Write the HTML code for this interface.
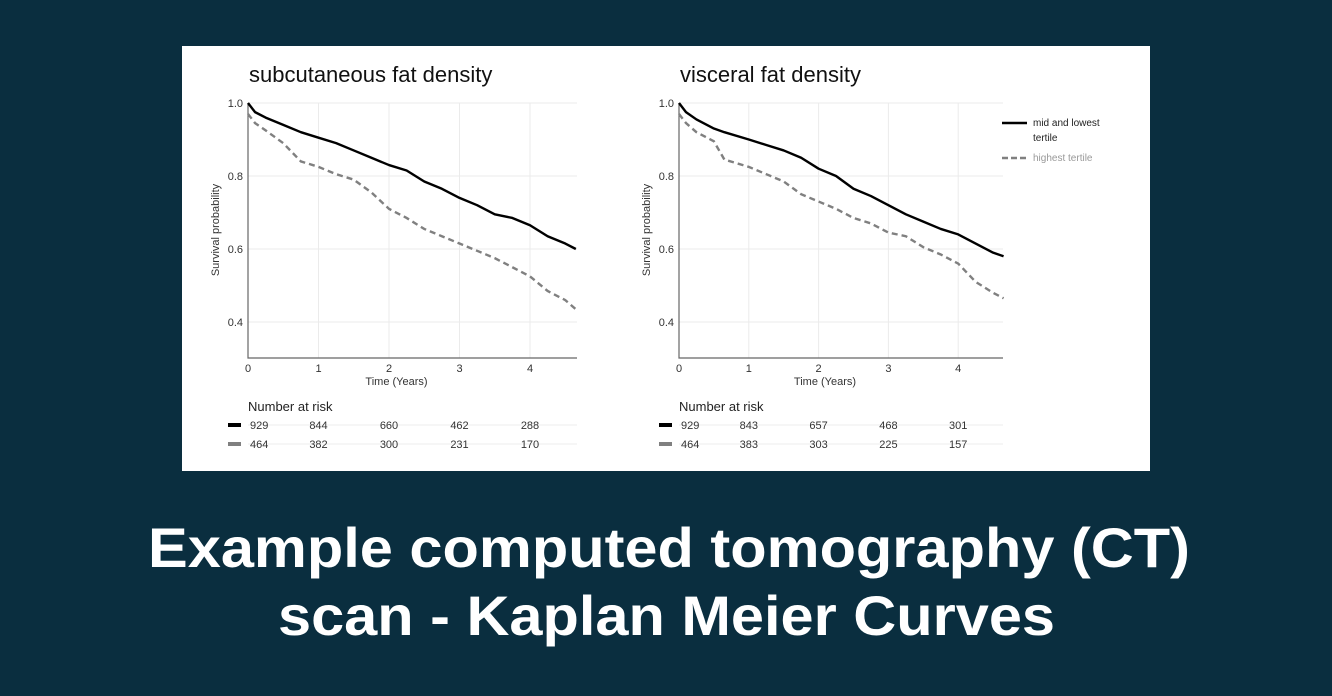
<!DOCTYPE html>
<html><head><meta charset="utf-8"><style>
html,body{margin:0;padding:0;background:#0a2e3f;}
svg{display:block;font-family:"Liberation Sans",sans-serif;}
</style></head><body>
<svg id="root" width="1332" height="696" viewBox="0 0 1332 696">
<rect x="0" y="0" width="1332" height="696" fill="#0a2e3f"/>
<rect x="182" y="46" width="968" height="425" fill="#ffffff"/>
<g id="charts"></g>
<text x="148" y="567" font-size="56" font-weight="bold" fill="#ffffff" textLength="1042" lengthAdjust="spacingAndGlyphs">Example computed tomography (CT)</text>
<text x="278" y="635" font-size="56" font-weight="bold" fill="#ffffff" textLength="777" lengthAdjust="spacingAndGlyphs">scan - Kaplan Meier Curves</text>
</svg>
<script>
const xTicks = [0,1,2,3,4];
const yTicks = [0.4,0.6,0.8,1.0];
const subTimes = [0,0.1,0.25,0.5,0.75,1,1.25,1.5,1.75,2,2.25,2.5,2.75,3,3.25,3.5,3.75,4,4.25,4.5,4.65];
const subSolid = [1.0,0.975,0.96,0.94,0.92,0.905,0.89,0.87,0.85,0.83,0.815,0.785,0.765,0.74,0.72,0.695,0.685,0.665,0.635,0.615,0.60];
const subDashed = [0.97,0.945,0.925,0.89,0.84,0.825,0.805,0.79,0.755,0.71,0.685,0.655,0.635,0.615,0.595,0.575,0.55,0.525,0.485,0.46,0.435];
const visTimes = [0,0.1,0.25,0.5,0.65,1,1.25,1.5,1.75,2,2.25,2.5,2.75,3,3.25,3.5,3.75,4,4.25,4.5,4.65];
const visSolid = [1.0,0.975,0.955,0.93,0.92,0.9,0.885,0.87,0.85,0.82,0.8,0.765,0.745,0.72,0.695,0.675,0.655,0.64,0.615,0.59,0.58];
const visDashed = [0.97,0.945,0.92,0.895,0.845,0.825,0.805,0.785,0.75,0.73,0.71,0.685,0.67,0.645,0.635,0.605,0.585,0.56,0.51,0.48,0.465];
const subRiskTop = ["929","844","660","462","288"];
const subRiskBottom = ["464","382","300","231","170"];
const visRiskTop = ["929","843","657","468","301"];
const visRiskBottom = ["464","383","303","225","157"];

const NS="http://www.w3.org/2000/svg";
const g=document.getElementById('charts');
function mk(tag,attrs,parent){const e=document.createElementNS(NS,tag);for(const k in attrs)e.setAttribute(k,attrs[k]);(parent||g).appendChild(e);return e;}

function drawChart(prefix,x0,pxPerYear,xEnd,title,times,solid,dashed,riskTop,riskBottom){
  const grp=mk('g',{});
  
  
  const yTop=103, yBot=358;
  const xs=t=>x0+t*pxPerYear;
  const ys=v=>103+(1.0-v)*365;
  const t=mk('text',{x:x0+1,y:82,'font-size':22,fill:'#111'},grp);t.textContent=title;
  
  
  xTicks.forEach(v=>{const l=mk('line',{x1:xs(v),x2:xs(v),y1:yTop,y2:yBot,stroke:'#ebebeb','stroke-width':1},grp);
    
    
    const tx=mk('text',{x:xs(v),y:372,'font-size':11,fill:'#333','text-anchor':'middle'},grp);tx.textContent=v;
    
    });
  yTicks.forEach(v=>{const l=mk('line',{x1:x0,x2:xEnd,y1:ys(v),y2:ys(v),stroke:'#ebebeb','stroke-width':1},grp);
    
    
    const ty=mk('text',{x:x0-5,y:ys(v)+4,'font-size':11,fill:'#333','text-anchor':'end'},grp);ty.textContent=v.toFixed(1);
    
    });
  const ax=mk('path',{d:`M${x0},${yTop} V${yBot} H${xEnd}`,fill:'none',stroke:'#666','stroke-width':1.2},grp);
  
  
  const xt=mk('text',{x:(x0+xEnd)/2-16,y:385,'font-size':11,fill:'#333','text-anchor':'middle'},grp);xt.textContent='Time (Years)';
  
  
  const yt=mk('text',{x:0,y:0,'font-size':11,fill:'#333','text-anchor':'middle',transform:`translate(${x0-29},230) rotate(-90)`},grp);yt.textContent='Survival probability';
  
  
  function linePath(vals){let d=`M${xs(times[0])},${ys(vals[0])}`;for(let i=1;i<times.length;i++){d+=` L${xs(times[i])},${ys(vals[i])}`;}return d;}
  const ps=mk('path',{d:linePath(solid),fill:'none',stroke:'#000','stroke-width':2.4,'stroke-linejoin':'round'},grp);
  
  
  const pd=mk('path',{d:linePath(dashed),fill:'none',stroke:'#808080','stroke-width':2.4,'stroke-dasharray':'6,4'},grp);
  
  
  const nr=mk('text',{x:x0,y:411,'font-size':13,fill:'#222'},grp);nr.textContent='Number at risk';
  
  
  [[riskTop,429,'#000'],[riskBottom,448,'#808080']].forEach(([row,y,c],ri)=>{
    const gl=mk('line',{x1:x0,x2:xEnd,y1:y-4,y2:y-4,stroke:'#eeeeee','stroke-width':1},grp);
    
    
    const sw=mk('rect',{x:x0-20,y:y-6,width:13,height:4,fill:c},grp);
    
    
    row.forEach((v,i)=>{const tt=mk('text',{x:xs(xTicks[i])+(i===0?2:0),y:y,'font-size':11,fill:'#333','text-anchor':i===0?'start':'middle'},grp);tt.textContent=v;
      
      });
  });
}
drawChart('subcutaneous',248,70.5,577,'subcutaneous fat density',subTimes,subSolid,subDashed,subRiskTop,subRiskBottom);
drawChart('visceral',679,69.8,1003,'visceral fat density',visTimes,visSolid,visDashed,visRiskTop,visRiskBottom);
const lg=mk('g',{});


const l1=mk('line',{x1:1002,x2:1027,y1:123,y2:123,stroke:'#000','stroke-width':2.5},lg);


const t1=mk('text',{x:1033,y:126,'font-size':10,fill:'#222'},lg);t1.textContent='mid and lowest';


const t1b=mk('text',{x:1033,y:141,'font-size':10,fill:'#222'},lg);t1b.textContent='tertile';


const l2=mk('line',{x1:1002,x2:1027,y1:158,y2:158,stroke:'#808080','stroke-width':2.5,'stroke-dasharray':'6,3'},lg);


const t2=mk('text',{x:1033,y:161,'font-size':10,fill:'#999'},lg);t2.textContent='highest tertile';


</script>
</body></html>
